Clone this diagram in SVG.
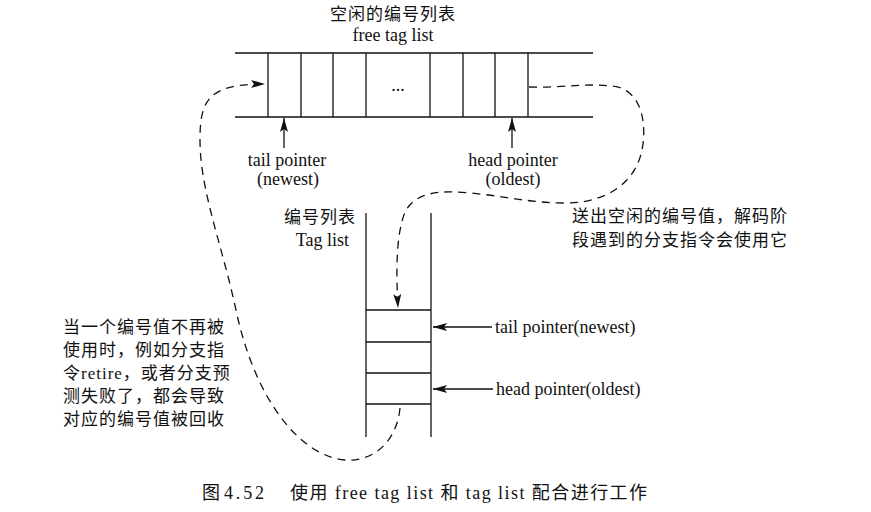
<svg xmlns="http://www.w3.org/2000/svg" width="871" height="512" viewBox="0 0 871 512">
  <defs>
    <style>
      .ln { stroke: #111; stroke-width: 1.3; fill: none; }
      .dash { stroke: #111; stroke-width: 1.3; fill: none; stroke-dasharray: 8 6; }
      .t { font-family: "Liberation Serif", "Noto Sans CJK SC", serif; font-size: 18px; fill: #111; }
      .cjk { font-family: "Liberation Serif", "Noto Sans CJK SC", sans-serif; font-size: 17px; fill: #111; letter-spacing: 1px; }
      .cap { font-family: "Liberation Serif", "Noto Sans CJK SC", serif; font-size: 18px; fill: #111; }
    </style>
    <marker id="ah" viewBox="0 0 14 8" refX="14" refY="4" markerWidth="14" markerHeight="8" markerUnits="userSpaceOnUse" orient="auto">
      <path d="M0,0 L14,4 L0,8 L3,4 z" fill="#111"/>
    </marker>
  </defs>
  <rect width="871" height="512" fill="#ffffff"/>

  <g id="free-tag-list">
    <text class="cjk" x="393" y="20" text-anchor="middle">空闲的编号列表</text>
    <text class="t" x="393" y="41" text-anchor="middle">free tag list</text>
    <line class="ln" x1="235" y1="53" x2="593" y2="53"/>
    <line class="ln" x1="235" y1="117" x2="593" y2="117"/>
    <line class="ln" x1="268" y1="53" x2="268" y2="117"/>
    <line class="ln" x1="301" y1="53" x2="301" y2="117"/>
    <line class="ln" x1="333" y1="53" x2="333" y2="117"/>
    <line class="ln" x1="366" y1="53" x2="366" y2="117"/>
    <line class="ln" x1="430" y1="53" x2="430" y2="117"/>
    <line class="ln" x1="463" y1="53" x2="463" y2="117"/>
    <line class="ln" x1="495" y1="53" x2="495" y2="117"/>
    <line class="ln" x1="528" y1="53" x2="528" y2="117"/>
    <text class="t" x="398" y="91" text-anchor="middle">...</text>
  </g>

  <g id="free-list-pointers">
    <line class="ln" x1="284" y1="148" x2="284" y2="118" marker-end="url(#ah)"/>
    <text class="t" x="287" y="166" text-anchor="middle">tail pointer</text>
    <text class="t" x="288" y="185" text-anchor="middle">(newest)</text>
    <line class="ln" x1="512" y1="148" x2="512" y2="118" marker-end="url(#ah)"/>
    <text class="t" x="513" y="166" text-anchor="middle">head pointer</text>
    <text class="t" x="513" y="185" text-anchor="middle">(oldest)</text>
  </g>

  <g id="tag-list">
    <text class="cjk" x="356" y="223" text-anchor="end">编号列表</text>
    <text class="t" x="349" y="246" text-anchor="end">Tag list</text>
    <line class="ln" x1="366" y1="213" x2="366" y2="437"/>
    <line class="ln" x1="431" y1="213" x2="431" y2="437"/>
    <line class="ln" x1="366" y1="310" x2="431" y2="310"/>
    <line class="ln" x1="366" y1="342" x2="431" y2="342"/>
    <line class="ln" x1="366" y1="373" x2="431" y2="373"/>
    <line class="ln" x1="366" y1="404" x2="431" y2="404"/>
  </g>

  <g id="tag-list-pointers">
    <line class="ln" x1="492" y1="327" x2="433" y2="327" marker-end="url(#ah)"/>
    <text class="t" x="495" y="333">tail pointer(newest)</text>
    <line class="ln" x1="493" y1="389" x2="433" y2="389" marker-end="url(#ah)"/>
    <text class="t" x="496" y="395">head pointer(oldest)</text>
  </g>

  <g id="connectors">
    <path class="dash" d="M 400 408 C 397 440, 375 462, 345 460 C 300 456, 255 400, 236 310 C 222 245, 200 190, 200 140 C 200 100, 208 84, 265 84" marker-end="url(#ah)"/>
    <path class="dash" d="M 529 87 C 565 88, 590 82, 618 87 C 645 95, 646 130, 642 150 C 636 180, 610 203, 565 203 C 530 203, 505 196, 470 193 C 440 190, 415 192, 405 212 C 396 235, 396 270, 398 308" marker-end="url(#ah)"/>
  </g>

  <g id="note-send">
    <text class="cjk" x="572" y="222">送出空闲的编号值，解码阶</text>
    <text class="cjk" x="572" y="246">段遇到的分支指令会使用它</text>
  </g>

  <g id="note-recycle">
    <text class="cjk" x="63" y="333">当一个编号值不再被</text>
    <text class="cjk" x="63" y="356">使用时，例如分支指</text>
    <text class="cjk" x="63" y="379">令retire，或者分支预</text>
    <text class="cjk" x="63" y="402">测失败了，都会导致</text>
    <text class="cjk" x="63" y="425">对应的编号值被回收</text>
  </g>

  <g id="caption">
    <text class="cap" x="202" y="499" font-size="17">图</text>
    <text class="cap" x="224" y="499" textLength="40" lengthAdjust="spacing">4.52</text>
    <text class="cap" x="290" y="499" textLength="357" lengthAdjust="spacing">使用 free tag list 和 tag list 配合进行工作</text>
  </g>
</svg>
